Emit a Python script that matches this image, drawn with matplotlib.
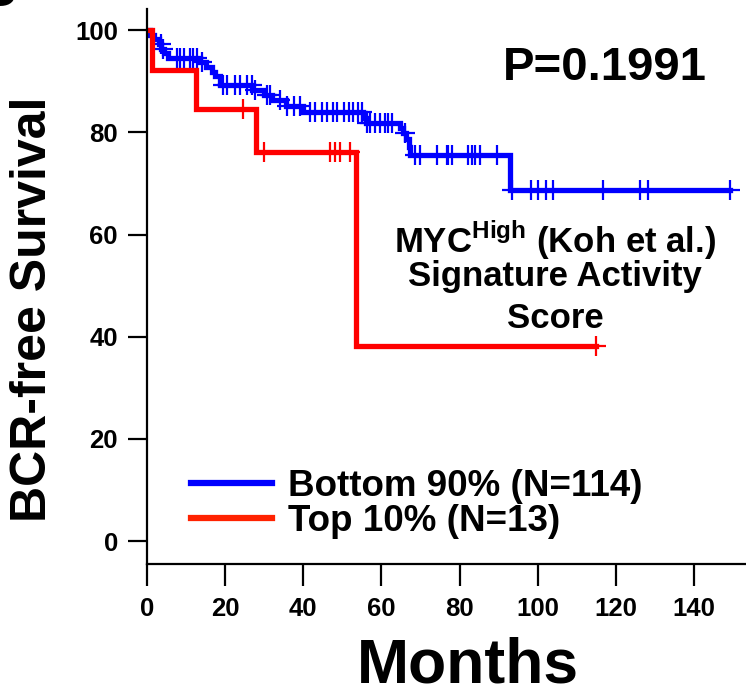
import matplotlib.pyplot as plt
import numpy as np
from matplotlib.lines import Line2D

plt.rcParams['font.family'] = ['Liberation Sans', 'DejaVu Sans']
plt.rcParams['font.weight'] = 'bold'
plt.rcParams['axes.labelweight'] = 'bold'
plt.rcParams['mathtext.fontset'] = 'custom'
plt.rcParams['mathtext.rm'] = 'Liberation Sans:bold'
plt.rcParams['mathtext.bf'] = 'Liberation Sans:bold'

# Bottom 90% group: event times (months) and survival (%) after each step
bottom_times = [0, 0.8, 1.8, 3.0, 3.6, 4.3, 5.5, 13.6, 15.0, 16.7, 17.5, 18.7,
                27.0, 30.0, 32.0, 35.5, 40.0, 55.4, 56.0, 64.8, 65.6, 66.4,
                67.0, 67.4, 92.9]
bottom_surv = [100, 99.1, 98.2, 97.3, 96.4, 95.5, 94.6, 93.7, 92.8, 91.9, 91.0,
               89.2, 88.3, 87.4, 86.3, 85.2, 83.9, 82.9, 81.9, 80.9, 79.9, 78.7,
               77.1, 75.6, 68.7]
bottom_censor = [3.5, 4.0, 7.7, 8.5, 9.4, 11.1, 11.9, 12.8, 14.2, 19.5, 20.5,
                 22.6, 23.9, 25.5, 26.8, 27.7, 30.7, 31.5, 34.1, 35.8, 37.5,
                 39.2, 41.8, 43.0, 44.8, 46.0, 47.7, 48.5, 50.3, 51.6, 52.8,
                 54.1, 55.0, 56.3, 57.1, 58.4, 59.7, 60.9, 61.8, 62.7, 66.0,
                 68.6, 69.9, 74.2, 76.7, 77.1, 78.0, 82.2, 83.1, 84.0, 85.2,
                 89.5, 93.5, 98.4, 100.1, 102.2, 103.9, 116.8, 126.2, 128.3,
                 149.2]

# Top 10% group
top_times = [0, 1.3, 12.5, 27.8, 53.6]
top_surv = [100, 92.3, 84.6, 76.2, 38.1]
top_censor = [24.5, 29.9, 46.9, 48.2, 49.5, 52.0, 114.8]

groups = [
    ("Bottom 90% (N=114)", bottom_times, bottom_surv, bottom_censor, "#0000FF"),
    ("Top 10% (N=13)", top_times, top_surv, top_censor, "#FF0000"),
]

fig = plt.figure(figsize=(7.46, 6.94), dpi=100)
ax = fig.add_axes([147 / 746, 1 - 564 / 694, 599 / 746, 554.7 / 694])

for label, times, surv, censor, color in groups:
    t = np.array(times + [max(censor)])
    s = np.array(surv + [surv[-1]])
    ax.step(t, s, where="post", color=color, lw=3.8, solid_joinstyle="miter")
    idx = np.searchsorted(times, censor, side="right") - 1
    ax.plot(censor, np.array(surv)[idx], linestyle="none", marker="+",
            markersize=15, markeredgewidth=1.6, color=color)

ax.set_xlim(0, 153.3)
ax.set_ylim(-4.5, 104.1)
ax.set_xticks(range(0, 141, 20))
ax.set_yticks(range(0, 101, 20))
ax.spines[["top", "right"]].set_visible(False)
ax.spines[["left", "bottom"]].set_linewidth(1.6)
ax.tick_params(axis="y", length=14, width=1.6, pad=7, labelsize=18.5)
ax.tick_params(axis="x", length=16, width=1.6, pad=8, labelsize=18.5)

ax.set_ylabel("BCR-free Survival", fontsize=36)
ax.yaxis.set_label_coords(-0.152, 0.46)
ax.set_xlabel("Months", fontsize=45)
ax.xaxis.set_label_coords(0.535, -0.13)

ax.text(117.2, 92.6, "P=0.1991", fontsize=34, ha="center", va="center")
ax.text(104.4, 56.3, r"MYC$^{\mathrm{High}}$ (Koh et al.)", fontsize=25,
        ha="center", va="baseline")
ax.text(104.4, 50.0, "Signature Activity", fontsize=25, ha="center", va="baseline")
ax.text(104.4, 41.7, "Score", fontsize=25, ha="center", va="baseline")

handles = [Line2D([], [], color="#0000FF", lw=4.5),
           Line2D([], [], color="#FF2200", lw=4.5)]
ax.legend(handles, [g[0] for g in groups], loc="lower left",
          bbox_to_anchor=(0.043, 0.012), frameon=False, fontsize=26.5,
          borderpad=0, handlelength=2.2, handletextpad=0.42, labelspacing=0.0)

fig.text(-0.005, 1.012, "B", fontsize=40, ha="center", va="center")

fig.savefig("out.png", dpi=100)
